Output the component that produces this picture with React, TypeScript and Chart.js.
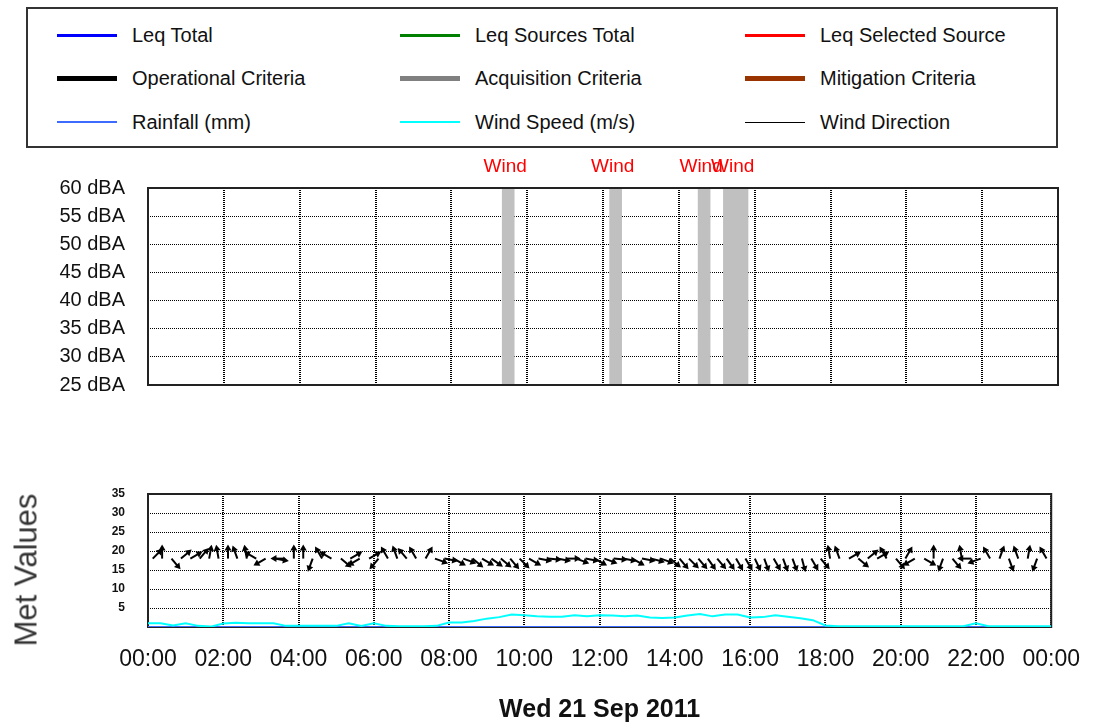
import React, { useEffect, useRef } from 'react';
import { Chart, registerables } from 'chart.js';
Chart.register(...registerables);

// ---------- data ----------
const hourTickLabels = ['00:00', '02:00', '04:00', '06:00', '08:00', '10:00', '12:00', '14:00', '16:00', '18:00', '20:00', '22:00', '00:00'];
const dateTitle = 'Wed 21 Sep 2011';
const metAxisTitle = 'Met Values';

const legendLabels = [
  'Leq Total', 'Leq Sources Total', 'Leq Selected Source',
  'Operational Criteria', 'Acquisition Criteria', 'Mitigation Criteria',
  'Rainfall (mm)', 'Wind Speed (m/s)', 'Wind Direction',
];
const legendColors = ['#0000FF', '#008000', '#FF0000', '#000000', '#808080', '#993300', '#3D6BFF', '#00FFFF', '#000000'];
const legendThickness = [3, 3, 3, 5, 5, 5, 2, 2, 1];

// wind exclusion periods on the noise chart
const windExclusionStart = ['09:20', '12:10', '14:30', '15:10'];
const windExclusionEnd = ['09:40', '12:30', '14:50', '15:50'];
const windExclusionLabel = ['Wind', 'Wind', 'Wind', 'Wind'];

// wind speed (m/s), every 20 minutes from 00:00 to 24:00
const windSpeed20min = [
  1.0, 1.0, 0.4, 1.0, 0.3, 0.1, 0.9, 1.1, 1.0, 1.0, 1.0, 0.3,
  0.3, 0.3, 0.3, 0.3, 1.0, 0.3, 1.0, 0.3, 0.2, 0.2, 0.2, 0.3,
  1.2, 1.2, 1.6, 2.2, 2.6, 3.3, 3.1, 2.8, 2.7, 2.7, 3.1, 2.8,
  3.1, 3.0, 2.8, 3.0, 2.5, 2.4, 2.5, 3.0, 3.4, 2.8, 3.3, 3.3,
  2.5, 2.6, 3.1, 2.7, 2.3, 1.8, 0.4, 0.2, 0.2, 0.2, 0.2, 0.2,
  0.2, 0.2, 0.2, 0.2, 0.2, 0.2, 1.0, 0.2, 0.2, 0.2, 0.2, 0.2,
  0.2,
];

// rainfall (mm), hourly
const rainfallHourly = [0, 0, 0, 0, 0, 0, 0, 0, 0, 0, 0, 0, 0, 0, 0, 0, 0, 0, 0, 0, 0, 0, 0, 0, 0];

// wind direction (degrees, blowing from), every 15 minutes
const windDirection15min = [
  225, 180, 320, 230, 240, 220, 190, 170, 180, 160, 170, 120,
  60, 280, 90, 180, 180, 20, 150, 120, 310, 240, 60, 240,
  40, 150, 160, 140, 150, 210, 290, 280, 300, 290, 310, 300,
  305, 310, 320, 315, 300, 280, 275, 280, 270, 290, 280, 300,
  290, 275, 280, 300, 280, 285, 290, 310, 320, 315, 320, 325,
  320, 325, 330, 330, 335, 340, 330, 340, 340, 345, 330, 320,
  170, 160, 240, 310, 230, 240, 150, 320, 210, 60, 300, 180,
  20, 320, 170, 90, 70, 150, 200, 340, 160, 190, 20, 150,
];
const ARROW_LEVEL = 18;

// ---------- styles ----------
const FONT = "'Liberation Sans', Arial, sans-serif";
const NARROW = "'Liberation Sans Narrow', 'Arial Narrow', 'Liberation Sans', sans-serif";

const toHours = (s: string) => {
  const [h, m] = s.split(':').map(Number);
  return h + m / 60;
};

const framePlugin = (hook: 'afterDraw' | 'beforeDatasetsDraw') => ({
  id: 'frame' + hook,
  [hook]: (chart: any) => {
    const { ctx, chartArea: a } = chart;
    ctx.save();
    ctx.strokeStyle = '#222';
    ctx.lineWidth = 2;
    ctx.strokeRect(a.left, a.top, a.right - a.left, a.bottom - a.top);
    ctx.restore();
  },
});

const windBandsPlugin = {
  id: 'windBands',
  beforeDatasetsDraw: (chart: any) => {
    const { ctx, chartArea: a, scales } = chart;
    ctx.save();
    ctx.fillStyle = '#C0C0C0';
    windExclusionStart.forEach((s, i) => {
      const x1 = scales.x.getPixelForValue(toHours(s));
      const x2 = scales.x.getPixelForValue(toHours(windExclusionEnd[i]));
      ctx.fillRect(x1, a.top + 1, x2 - x1, a.bottom - a.top - 2);
    });
    ctx.restore();
  },
  afterDraw: (chart: any) => {
    const { ctx, chartArea: a, scales } = chart;
    ctx.save();
    ctx.fillStyle = '#FF0000';
    ctx.font = `19px ${FONT}`;
    ctx.textAlign = 'center';
    ctx.textBaseline = 'middle';
    windExclusionStart.forEach((s, i) => {
      const c = (toHours(s) + toHours(windExclusionEnd[i])) / 2;
      ctx.fillText(windExclusionLabel[i], scales.x.getPixelForValue(c) - 3, a.top - 21);
    });
    ctx.restore();
  },
};

const windArrowsPlugin = {
  id: 'windArrows',
  afterDatasetsDraw: (chart: any) => {
    const { ctx, scales } = chart;
    const L = 14, hl = 6, hw = 3.5;
    ctx.save();
    ctx.strokeStyle = '#000';
    ctx.fillStyle = '#000';
    ctx.lineWidth = 2;
    windDirection15min.forEach((dir, i) => {
      const t = (i + 0.5) * 0.25;
      const x0 = scales.x.getPixelForValue(t);
      const y0 = scales.y.getPixelForValue(ARROW_LEVEL);
      const ang = (((dir + 180) % 360) * Math.PI) / 180;
      const dx = Math.sin(ang), dy = -Math.cos(ang);
      const x1 = x0 + dx * L, y1 = y0 + dy * L;
      ctx.beginPath();
      ctx.moveTo(x0, y0);
      ctx.lineTo(x1 - dx * hl * 0.6, y1 - dy * hl * 0.6);
      ctx.stroke();
      ctx.beginPath();
      ctx.moveTo(x1, y1);
      ctx.lineTo(x1 - dx * hl - dy * hw, y1 - dy * hl + dx * hw);
      ctx.lineTo(x1 - dx * hl + dy * hw, y1 - dy * hl - dx * hw);
      ctx.closePath();
      ctx.fill();
    });
    ctx.restore();
  },
};

const gridX = { color: '#000', lineWidth: 2, drawTicks: false };
const gridY = { color: '#000', lineWidth: 1, drawTicks: false };
const dashed = { display: false, dash: [1, 1] };

export default function App() {
  const topRef = useRef<HTMLCanvasElement>(null);
  const botRef = useRef<HTMLCanvasElement>(null);

  useEffect(() => {
    const top = new Chart(topRef.current as HTMLCanvasElement, {
      type: 'line',
      data: {
        datasets: [
          { label: legendLabels[0], data: [], borderColor: legendColors[0] },
          { label: legendLabels[1], data: [], borderColor: legendColors[1] },
          { label: legendLabels[2], data: [], borderColor: legendColors[2] },
        ],
      },
      options: {
        animation: false,
        responsive: false,
        layout: { padding: { top: 38, right: 41, bottom: 0, left: 0 } },
        plugins: { legend: { display: false }, tooltip: { enabled: false } },
        scales: {
          x: {
            type: 'linear', min: 0, max: 24,
            ticks: { stepSize: 2, display: false },
            grid: gridX, border: dashed,
            afterFit: (s: any) => { s.height = 17; },
          },
          y: {
            type: 'linear', min: 25, max: 60,
            ticks: {
              stepSize: 5, padding: 23, color: '#111',
              font: { family: FONT, size: 20 },
              callback: (v: any) => `${v} dBA`,
            },
            grid: gridY, border: dashed,
            afterFit: (s: any) => { s.width = 148; },
          },
        },
      } as any,
      plugins: [windBandsPlugin, framePlugin('afterDraw')],
    });

    const bot = new Chart(botRef.current as HTMLCanvasElement, {
      type: 'line',
      data: {
        datasets: [
          {
            label: legendLabels[7],
            data: windSpeed20min.map((v, i) => ({ x: i / 3, y: v })),
            borderColor: legendColors[7], borderWidth: 2, pointRadius: 0, tension: 0,
          },
          {
            label: legendLabels[6],
            data: rainfallHourly.map((v, i) => ({ x: i, y: v })),
            borderColor: legendColors[6], borderWidth: 2, pointRadius: 0, tension: 0,
          },
        ],
      },
      options: {
        animation: false,
        responsive: false,
        layout: { padding: { top: 74, right: 41, bottom: 0, left: 0 } },
        plugins: { legend: { display: false }, tooltip: { enabled: false } },
        scales: {
          x: {
            type: 'linear', min: 0, max: 24,
            ticks: {
              stepSize: 2, autoSkip: false, maxRotation: 0, padding: 19, color: '#111',
              font: { family: FONT, size: 23 },
              callback: (v: any) => hourTickLabels[Math.round(Number(v) / 2)],
            },
            grid: gridX, border: dashed,
            title: {
              display: true, text: dateTitle, color: '#111',
              font: { family: FONT, size: 25, weight: 'bold' },
              padding: { top: 0, bottom: 1 },
            },
            afterFit: (s: any) => { s.height = 99; },
          },
          y: {
            type: 'linear', min: 0, max: 35,
            ticks: {
              stepSize: 5, padding: 23, color: '#111',
              font: { family: NARROW, size: 12, weight: 'bold' },
              callback: (v: any) => (Number(v) === 0 ? '' : String(v)),
            },
            grid: gridY, border: dashed,
            afterFit: (s: any) => { s.width = 148; },
          },
        },
      } as any,
      plugins: [framePlugin('beforeDatasetsDraw'), windArrowsPlugin],
    });

    return () => { top.destroy(); bot.destroy(); };
  }, []);

  const rowY = [35, 78, 122];
  const lineX = [57, 400, 745];
  const textX = [132, 475, 820];

  return (
    <div style={{ position: 'absolute', left: 0, top: 0, width: 1099, height: 726, background: '#fff', overflow: 'hidden', fontFamily: FONT }}>
      <div style={{ position: 'absolute', left: 26, top: 7, width: 1032, height: 141, boxSizing: 'border-box', border: '2px solid #333' }} />
      {legendLabels.map((lab, i) => {
        const r = Math.floor(i / 3), c = i % 3;
        return (
          <React.Fragment key={lab}>
            <div style={{ position: 'absolute', left: lineX[c], top: rowY[r] - legendThickness[i] / 2, width: 60, height: legendThickness[i], background: legendColors[i] }} />
            <div style={{ position: 'absolute', left: textX[c], top: rowY[r], transform: 'translateY(-50%)', fontSize: 20, lineHeight: 1, color: '#111', whiteSpace: 'nowrap' }}>{lab}</div>
          </React.Fragment>
        );
      })}
      <canvas ref={topRef} width={1099} height={270} style={{ position: 'absolute', left: 0, top: 150, width: 1099, height: 270 }} />
      <canvas ref={botRef} width={1099} height={306} style={{ position: 'absolute', left: 0, top: 420, width: 1099, height: 306 }} />
      <div style={{ position: 'absolute', left: 26, top: 570, transform: 'translate(-50%, -50%) rotate(-90deg)', fontSize: 31, lineHeight: 1, color: '#333', whiteSpace: 'nowrap' }}>{metAxisTitle}</div>
    </div>
  );
}
